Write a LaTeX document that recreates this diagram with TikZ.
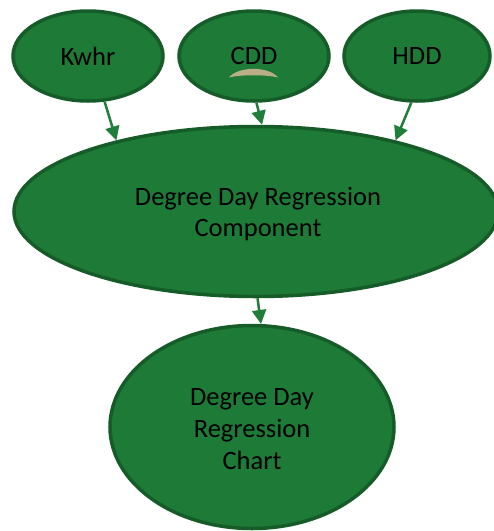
\documentclass[tikz,border=0pt]{standalone}
\usepackage{fontspec}
\setmainfont{Carlito}
\usetikzlibrary{shapes.geometric,arrows.meta}
\definecolor{gfill}{RGB}{29,122,55}
\definecolor{gline}{RGB}{21,92,41}
\definecolor{garrow}{RGB}{31,126,58}
\definecolor{tan}{RGB}{186,174,134}
\tikzset{
  oval/.style={ellipse, draw=gline, fill=gfill, line width=3.5pt, inner sep=0pt, align=center, font=\fontsize{26.5}{31}\selectfont, text=black},
  caption/.style={align=center, inner sep=0pt, text=black},
  link/.style={draw=garrow, line width=2.5pt, -{Triangle[length=14pt,width=14pt]}}
}
\begin{document}
\begin{tikzpicture}[x=1pt,y=-1pt]
\useasboundingbox (0,0) rectangle (494,531);
\clip (0,0) rectangle (494,531);
\node[oval, minimum width=150pt, minimum height=90pt] (kwhr) at (88,56) {Kwhr};
\node[oval, minimum width=150pt, minimum height=90pt] (cdd) at (254,56) {CDD};
\node[oval, minimum width=146pt, minimum height=90pt] (hdd) at (417,56) {HDD};
\node[oval, minimum width=484pt, minimum height=170pt] (big) at (256,211.5) {};
\node[caption, font=\fontsize{26.5}{31}\selectfont] (bigtext) at (258,214) {Degree Day Regression\\Component};
\node[oval, minimum width=284pt, minimum height=203pt] (chart) at (252,427) {};
\node[caption, font=\fontsize{26.5}{32}\selectfont] (charttext) at (252,429) {Degree Day\\Regression\\Chart};
\fill[tan] (229,77.5) .. controls (238,66) and (269,66) .. (278,77.5) .. controls (267,74.5) and (240,74.5) .. (229,77.5);
\draw[link] (kwhr.-70) -- (big.153);
\draw[link] (cdd.-87) -- (big.86);
\draw[link] (hdd.-97) -- (big.27);
\draw[link] (big.-89) -- (chart.85);
\end{tikzpicture}
\end{document}
